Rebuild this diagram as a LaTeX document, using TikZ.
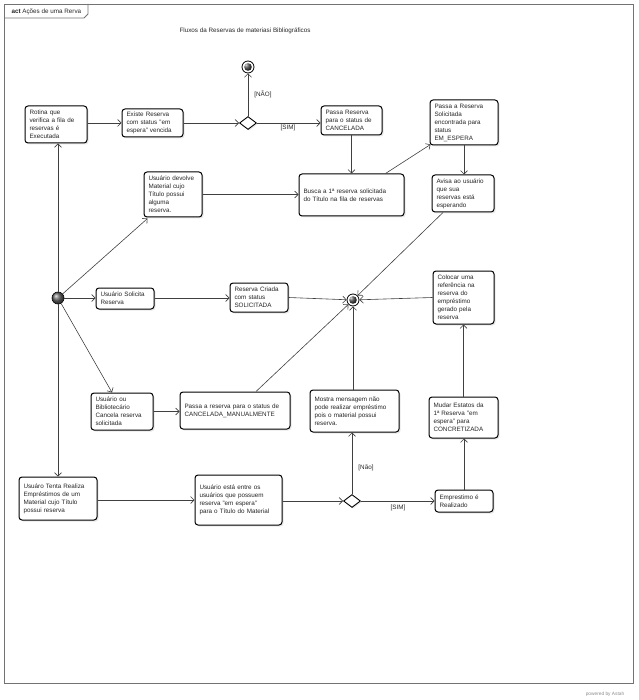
\documentclass[tikz,border=0pt]{standalone}
\usepackage{fontspec}
\setmainfont{Liberation Sans}
\usetikzlibrary{arrows.meta,shapes.geometric,shadows}
\begin{document}
\begin{tikzpicture}[x=1pt,y=-1pt,
  txt/.style={font=\fontsize{6.3}{8}\selectfont, text=black!85},
  act/.style={txt, draw=black, line width=1pt, rounded corners=3pt, fill=white,
    inner xsep=4.5pt, inner ysep=2pt, align=left,
    drop shadow={shadow xshift=1.5pt, shadow yshift=-1.5pt, fill=black!18}},
  flow/.style={draw=black!75, line width=0.6pt, -{Straight Barb[length=3.5pt,width=7pt]}},
  decide/.style={diamond, draw=black, line width=0.9pt, fill=white, minimum width=17pt, minimum height=13pt, inner sep=0pt,
    drop shadow={shadow xshift=1.2pt, shadow yshift=-1.2pt, fill=black!18}},
  finalnode/.style={circle, draw=black, line width=0.8pt, fill=white, minimum size=12pt, inner sep=0pt,
    path picture={\shade[ball color=black!80] (path picture bounding box.center) circle (3.8pt);}},
  initnode/.style={circle, draw=black, line width=0.6pt, minimum size=12pt, inner sep=0pt, shading=ball, ball color=black!60},
  lbl/.style={txt}
]
\useasboundingbox (0,0) rectangle (638,700);
% frame
\draw[black!55, line width=0.8pt] (4,4) rectangle (633,683);
\draw[black!55, line width=0.8pt] (4,18) -- (84,18) -- (88,14) -- (88,4);
\node[txt, anchor=west] (frametitle) at (8,11.5) {\textbf{act} Ações de uma Rerva};
\node[txt] (title) at (245,31) {Fluxos da Reservas de materiasi Bibliográficos};
\node[font=\fontsize{4.8}{5}\selectfont, text=black!45] (powered) at (605,694) {powered by Astah};

% nodes
\node[act, text width=53pt, minimum height=37pt] (rotina) at (56,124.5) {Rotina que\\verifica a fila de\\reservas é\\Executada};
\node[act, text width=52pt, minimum height=28pt] (existe) at (152.5,123) {Existe Reserva\\com status "em\\espera" vencida};
\node[act, text width=52pt, minimum height=29pt] (cancel) at (351.5,120.5) {Passa Reserva\\para o status de\\CANCELADA};
\node[act, text width=59pt, minimum height=45pt] (solic) at (464,122.5) {Passa a Reserva\\Solicitada\\encontrada para\\status\\EM\_ESPERA};
\node[act, text width=49pt, minimum height=45pt] (devolve) at (173,194.5) {Usuário devolve\\Material cujo\\Título possui\\alguma\\reserva.};
\node[act, text width=96pt, minimum height=42pt] (busca) at (351.5,195) {Busca a 1ª reserva solicitada\\do Título na fila de reservas};
\node[act, text width=53pt, minimum height=37pt] (avisa) at (463,193.5) {Avisa ao usuário\\que sua\\reservas está\\esperando};
\node[act, text width=49pt, minimum height=21pt] (usol) at (125,298.5) {Usuário Solicita\\Reserva};
\node[act, text width=49pt, minimum height=29pt] (criada) at (259,297.5) {Reserva Criada\\com status\\SOLICITADA};
\node[act, text width=52pt, minimum height=53pt] (colocar) at (463.5,297.5) {Colocar uma\\referência na\\reserva do\\empréstimo\\gerado pela\\reserva};
\node[act, text width=53pt, minimum height=37pt] (ubib) at (122,411.5) {Usuário ou\\Bibliotecário\\Cancela reserva\\solicitada};
\node[act, text width=101pt, minimum height=37pt] (cman) at (235,410.5) {Passa a reserva para o status de\\CANCELADA\_MANUALMENTE};
\node[act, text width=80pt, minimum height=42pt] (mostra) at (354.5,411) {Mostra mensagem não\\pode realizar empréstimo\\pois o material possui\\reserva.};
\node[act, text width=60pt, minimum height=41pt] (mudar) at (463.5,417.5) {Mudar Estatos da\\1ª Reserva "em\\espera" para\\CONCRETIZADA};
\node[act, text width=69pt, minimum height=43pt] (tenta) at (58,498.5) {Usuáro Tenta Realiza\\Empréstimos de um\\Material cujo Título\\possui reserva};
\node[act, text width=78pt, minimum height=50pt] (entre) at (238.5,500) {Usuário está entre os\\usuários que possuem\\reserva "em espera"\\para o Título do Material};
\node[act, text width=49pt, minimum height=22pt] (empr) at (464,501) {Emprestimo é\\Realizado};

\node[finalnode] (ftop) at (248,67) {};
\node[decide] (dtop) at (248,123) {};
\node[initnode] (init) at (58,298) {};
\node[finalnode] (fmid) at (353,300) {};
\node[decide] (dbot) at (352,501) {};

% labels
\node[lbl] (lnao1) at (263,94) {[NÃO]};
\node[lbl] (lsim1) at (288,127.5) {[SIM]};
\node[lbl] (lnao2) at (366,468) {[Não]};
\node[lbl] (lsim2) at (398,507.5) {[SIM]};

% connectors
\draw[flow] (rotina.east |- existe.west) -- (existe.west);
\draw[flow] (existe.east) -- (dtop.west);
\draw[flow] (dtop.east) -- (cancel.west |- dtop.east);
\draw[flow] (dtop.north) -- (ftop.south);
\draw[flow] (cancel.south) -- (busca.north -| cancel.south);
\draw[flow] ([xshift=34pt]busca.north) -- ([shift={(1,-1)}]solic.south west);
\draw[flow] (solic.south) -- (avisa.north -| solic.south);
\draw[flow] ([xshift=-20pt]avisa.south) -- (fmid);
\draw[flow] (devolve.east) -- (busca.west |- devolve.east);

\draw[flow] (init) -- (rotina.south -| init);
\draw[flow] (init) -- ([shift={(4,1)}]devolve.south west);
\draw[flow] (init) -- (usol.west |- init);
\draw[flow] (init) -- ([xshift=-10pt]ubib.north);
\draw[flow] (init) -- (tenta.north -| init);

\draw[flow] (usol.east |- init) -- (criada.west |- init);
\draw[flow] (criada.east) -- (fmid);
\draw[flow] (colocar.west) -- (fmid);
\draw[flow] ([xshift=21pt]cman.north) -- (fmid);
\draw[flow] (ubib.east) -- (cman.west |- ubib.east);
\draw[flow] (fmid |- mostra.north) -- (fmid);

\draw[flow] (tenta.east |- entre.west) -- (entre.west);
\draw[flow] (entre.east |- dbot) -- (dbot.west);
\draw[flow] (dbot.east) -- (empr.west |- dbot.east);
\draw[flow] (dbot.north) -- (mostra.south -| dbot.north);
\draw[flow] (empr.north) -- (mudar.south -| empr.north);
\draw[flow] (mudar.north) -- (colocar.south -| mudar.north);
\end{tikzpicture}
\end{document}
